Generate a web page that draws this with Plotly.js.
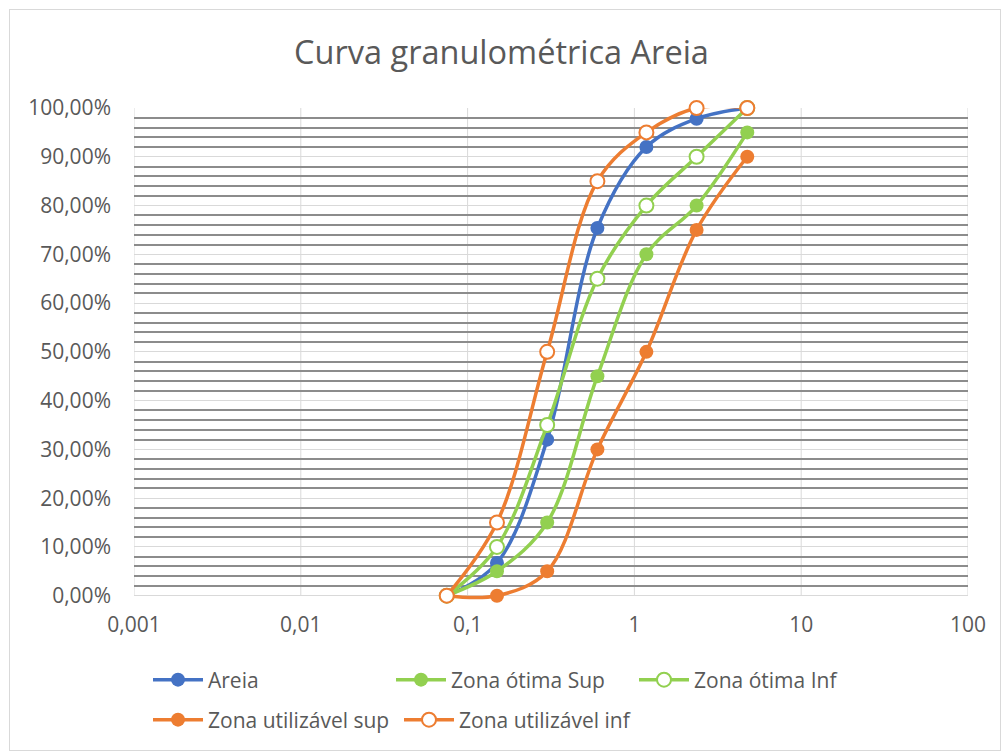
<!DOCTYPE html>
<html>
<head>
<meta charset="utf-8">
<script src="https://cdn.plot.ly/plotly-3.0.1.min.js"></script>
<style>
  html, body { margin: 0; padding: 0; background: #ffffff; }
  #wrap { position: relative; width: 1003px; height: 753px; }
  #chart { position: absolute; left: 0; top: 0; width: 1003px; height: 753px; }
  #frame { position: absolute; left: 9px; top: 9px; width: 990px; height: 740px;
           border: 1px solid #d9d9d9; pointer-events: none; }
</style>
</head>
<body>
<div id="wrap">
  <div id="chart"></div>
  <div id="frame"></div>
</div>
<script>
// Sieve openings (mm)
const sieves = [0.075, 0.15, 0.3, 0.6, 1.18, 2.36, 4.75];

// Cumulative passing fractions for each curve
const areia = [0, 0.067, 0.32, 0.754, 0.92, 0.978, 1.0];
const otimaSup = [0, 0.05, 0.15, 0.45, 0.70, 0.80, 0.95];
const otimaInf = [0, 0.10, 0.35, 0.65, 0.80, 0.90, 1.0];
const utilSup = [0, 0, 0.05, 0.30, 0.50, 0.75, 0.90];
const utilInf = [0, 0.15, 0.50, 0.85, 0.95, 1.0, 1.0];

// Axis ticks
const xTickVals = [0.001, 0.01, 0.1, 1, 10, 100];
const xTickText = ['0,001', '0,01', '0,1', '1', '10', '100'];

const BLUE = '#4472C4', GREEN = '#92D050', ORANGE = '#ED7D31';
const FONT = 'Open Sans, sans-serif';
const TXT = '#595959';

// A little room under 0 % so the smoothed curves are not cut where they dip
const Y_MIN = -0.015;

function curve(name, y, color, open, legendId) {
  return {
    type: 'scatter', mode: 'lines+markers', name: name,
    x: sieves, y: y, legend: legendId, cliponaxis: false,
    line: { color: color, width: 3.5, shape: 'spline', smoothing: 1 },
    marker: open
      ? { symbol: 'circle', size: 14, color: '#ffffff', line: { color: color, width: 2 } }
      : { symbol: 'circle', size: 14, color: color, line: { color: color, width: 0 } },
    hoverinfo: 'x+y'
  };
}

const traces = [
  curve('Areia', areia, BLUE, false, 'legend'),
  curve('Zona ótima Sup', otimaSup, GREEN, false, 'legend'),
  curve('Zona ótima Inf', otimaInf, GREEN, true, 'legend'),
  curve('Zona utilizável sup', utilSup, ORANGE, false, 'legend2'),
  curve('Zona utilizável inf', utilInf, ORANGE, true, 'legend2')
];

function legendRow(yPix, entry) {
  return {
    orientation: 'h',
    xref: 'container', yref: 'container',
    x: 148 / 1003, xanchor: 'left',
    y: 1 - yPix / 753, yanchor: 'middle',
    entrywidth: entry, entrywidthmode: 'pixels',
    traceorder: 'normal',
    itemwidth: 50,
    font: { family: FONT, size: 21, color: TXT },
    bgcolor: 'rgba(0,0,0,0)'
  };
}

// Vertical decade grid lines, limited to the 0–100 % band
const decadeLines = xTickVals.map(v => ({
  type: 'line', layer: 'below', xref: 'x', yref: 'y',
  x0: v, x1: v, y0: 0, y1: 1,
  line: { color: '#d9d9d9', width: 1 }
}));

const pxPerUnit = 488;              // height of the 0–100 % band
const plotH = pxPerUnit * (1 - Y_MIN);
const bottom = 753 - 108 - plotH;

const layout = {
  width: 1003, height: 753,
  margin: { l: 134, r: 35, t: 108, b: bottom },
  paper_bgcolor: 'rgba(0,0,0,0)',
  plot_bgcolor: 'rgba(0,0,0,0)',
  separators: ',.',
  font: { family: FONT, color: TXT, size: 21 },
  title: {
    text: 'Curva granulométrica Areia',
    font: { family: FONT, size: 32.5, color: TXT },
    x: 0.5, xanchor: 'center', xref: 'container',
    y: 1 - 53 / 753, yanchor: 'middle', yref: 'container'
  },
  xaxis: {
    type: 'log',
    range: [-3, 2],
    tickvals: xTickVals, ticktext: xTickText,
    showgrid: false,
    zeroline: false, showline: false, ticks: '',
    ticklabelstandoff: 7,
    tickfont: { family: FONT, size: 21, color: TXT }
  },
  yaxis: {
    range: [Y_MIN, 1],
    tickmode: 'linear', tick0: 0, dtick: 0.1,
    tickformat: '.2%',
    showgrid: true, gridcolor: '#d9d9d9', gridwidth: 1,
    minor: { tickmode: 'linear', tick0: 0, dtick: 0.02, showgrid: true, gridcolor: '#8c8c8c', gridwidth: 2, ticks: '' },
    zeroline: false, showline: false, ticks: '',
    ticklabelstandoff: 22,
    tickfont: { family: FONT, size: 21, color: TXT }
  },
  shapes: decadeLines,
  showlegend: true,
  legend: legendRow(680, 178),
  legend2: legendRow(720, 186),
  hovermode: 'closest'
};

Plotly.newPlot('chart', traces, layout, { displayModeBar: false, responsive: false });
</script>
</body>
</html>
